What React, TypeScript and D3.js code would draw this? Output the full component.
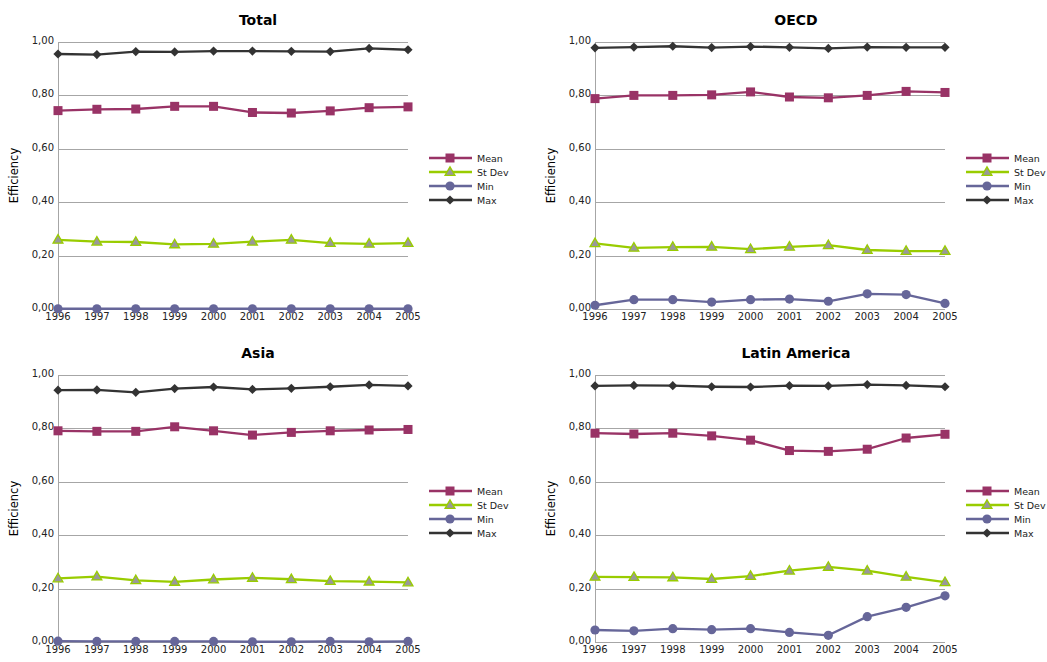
import React from "react";
import * as d3 from "d3";

const years = ["1996", "1997", "1998", "1999", "2000", "2001", "2002", "2003", "2004", "2005"];
const yTicks = [0, 0.2, 0.4, 0.6, 0.8, 1.0];
const seriesNames = ["Mean", "St Dev", "Min", "Max"];

const totalMean = [0.743, 0.748, 0.749, 0.759, 0.759, 0.736, 0.734, 0.742, 0.754, 0.757];
const totalSd = [0.259, 0.252, 0.251, 0.242, 0.244, 0.252, 0.259, 0.247, 0.244, 0.247];
const totalMin = [0.001, 0.001, 0.001, 0.001, 0.001, 0.001, 0.001, 0.001, 0.001, 0.001];
const totalMax = [0.955, 0.953, 0.964, 0.963, 0.966, 0.966, 0.965, 0.964, 0.976, 0.971];

const oecdMean = [0.788, 0.8, 0.8, 0.802, 0.813, 0.794, 0.791, 0.8, 0.815, 0.811];
const oecdSd = [0.246, 0.229, 0.232, 0.233, 0.224, 0.233, 0.239, 0.221, 0.217, 0.217];
const oecdMin = [0.014, 0.035, 0.035, 0.026, 0.035, 0.037, 0.029, 0.057, 0.054, 0.021];
const oecdMax = [0.978, 0.981, 0.984, 0.979, 0.983, 0.98, 0.976, 0.981, 0.98, 0.98];

const asiaMean = [0.791, 0.789, 0.789, 0.806, 0.791, 0.775, 0.785, 0.791, 0.794, 0.796];
const asiaSd = [0.238, 0.245, 0.231, 0.225, 0.234, 0.24, 0.235, 0.228, 0.226, 0.223];
const asiaMin = [0.003, 0.002, 0.002, 0.002, 0.002, 0.001, 0.001, 0.002, 0.001, 0.002];
const asiaMax = [0.943, 0.944, 0.935, 0.949, 0.955, 0.946, 0.95, 0.956, 0.963, 0.959];

const latMean = [0.782, 0.779, 0.782, 0.772, 0.756, 0.717, 0.714, 0.722, 0.764, 0.778];
const latSd = [0.244, 0.243, 0.242, 0.236, 0.247, 0.267, 0.281, 0.267, 0.244, 0.224];
const latMin = [0.045, 0.042, 0.05, 0.046, 0.05, 0.036, 0.025, 0.095, 0.13, 0.173];
const latMax = [0.959, 0.961, 0.96, 0.956, 0.955, 0.96, 0.959, 0.964, 0.961, 0.956];

const panelTitles = ["Total", "OECD", "Asia", "Latin America"];
const panelData = [
  [totalMean, totalSd, totalMin, totalMax],
  [oecdMean, oecdSd, oecdMin, oecdMax],
  [asiaMean, asiaSd, asiaMin, asiaMax],
  [latMean, latSd, latMin, latMax],
];

// layout (not data)
const panelRects = [
  { x0: 58, x1: 408, y0: 42, y1: 309, titleX: 258 },
  { x0: 595, x1: 945, y0: 42, y1: 309, titleX: 796 },
  { x0: 58, x1: 408, y0: 375, y1: 642, titleX: 258 },
  { x0: 595, x1: 945, y0: 375, y1: 642, titleX: 796 },
];

const colors = ["#993366", "#99cc00", "#666699", "#333333"];
const FONT = "'DejaVu Sans', Verdana, sans-serif";

function Marker({ kind, x, y }: { kind: number; x: number; y: number }) {
  if (kind === 0) {
    return <rect x={x - 4.5} y={y - 4.5} width={9} height={9} fill="#993366" />;
  }
  if (kind === 1) {
    const p = d3.symbol().type(d3.symbolTriangle).size(42)();
    return <path d={p || ""} transform={`translate(${x},${y + 0.5})`} fill="#999999" stroke="#99cc00" strokeWidth={1.3} />;
  }
  if (kind === 2) {
    return <circle cx={x} cy={y} r={4.6} fill="#666699" />;
  }
  const h = 4.6;
  return <path d={`M${x},${y - h}L${x + h},${y}L${x},${y + h}L${x - h},${y}Z`} fill="#333333" />;
}

function Panel({ idx }: { idx: number }) {
  const r = panelRects[idx];
  const x = d3.scalePoint<string>().domain(years).range([r.x0, r.x1]);
  const y = d3.scaleLinear().domain([0, 1]).range([r.y1, r.y0]);
  const fmt = (v: number) => v.toFixed(2).replace(".", ",");
  const data = panelData[idx];
  const legX = r.x1 + 21;
  const legY = r.y0 + 116;
  return (
    <g>
      <text x={r.titleX} y={r.y0 - 17} textAnchor="middle" fontFamily={FONT} fontWeight="bold" fontSize={14} fill="#000">
        {panelTitles[idx]}
      </text>
      {yTicks.map((t) => (
        <line key={"g" + t} x1={r.x0} x2={r.x1} y1={Math.round(y(t)) + 0.5} y2={Math.round(y(t)) + 0.5} stroke="#a6a6a6" strokeWidth={1} />
      ))}
      <line x1={r.x0 + 0.5} x2={r.x0 + 0.5} y1={r.y0} y2={r.y1} stroke="#a6a6a6" strokeWidth={1} />
      {yTicks.map((t) => (
        <text key={"t" + t} x={r.x0 - 4} y={y(t) + 2} textAnchor="end" fontFamily={FONT} fontSize={10} fill="#222">
          {fmt(t)}
        </text>
      ))}
      {years.map((yr) => (
        <text key={yr} x={x(yr)} y={r.y1 + 11} textAnchor="middle" fontFamily={FONT} fontSize={10} fill="#222">
          {yr}
        </text>
      ))}
      <text
        transform={`translate(${r.x0 - 40},${(r.y0 + r.y1) / 2}) rotate(-90)`}
        textAnchor="middle"
        fontFamily={FONT}
        fontSize={11.5}
        fill="#000"
      >
        Efficiency
      </text>
      {data.map((vals, si) => {
        const line = d3
          .line<number>()
          .x((_, i) => x(years[i]) as number)
          .y((v) => y(v));
        return (
          <g key={si}>
            <path d={line(vals) || ""} fill="none" stroke={colors[si]} strokeWidth={2.3} strokeLinejoin="round" />
            {vals.map((v, i) => (
              <Marker key={i} kind={si} x={x(years[i]) as number} y={y(v)} />
            ))}
          </g>
        );
      })}
      {seriesNames.map((n, si) => {
        const ly = legY + si * 14;
        return (
          <g key={n}>
            <line x1={legX} x2={legX + 43} y1={ly} y2={ly} stroke={colors[si]} strokeWidth={2.3} />
            <Marker kind={si} x={legX + 21} y={ly} />
            <text x={legX + 48} y={ly + 3.5} fontFamily={FONT} fontSize={9.5} fill="#222">
              {n}
            </text>
          </g>
        );
      })}
    </g>
  );
}

export default function App() {
  return (
    <svg width={1047} height={662} style={{ position: "absolute", left: 0, top: 0, background: "#fff" }}>
      <rect x={0} y={0} width={1047} height={662} fill="#fff" />
      {[0, 1, 2, 3].map((i) => (
        <Panel key={i} idx={i} />
      ))}
    </svg>
  );
}
